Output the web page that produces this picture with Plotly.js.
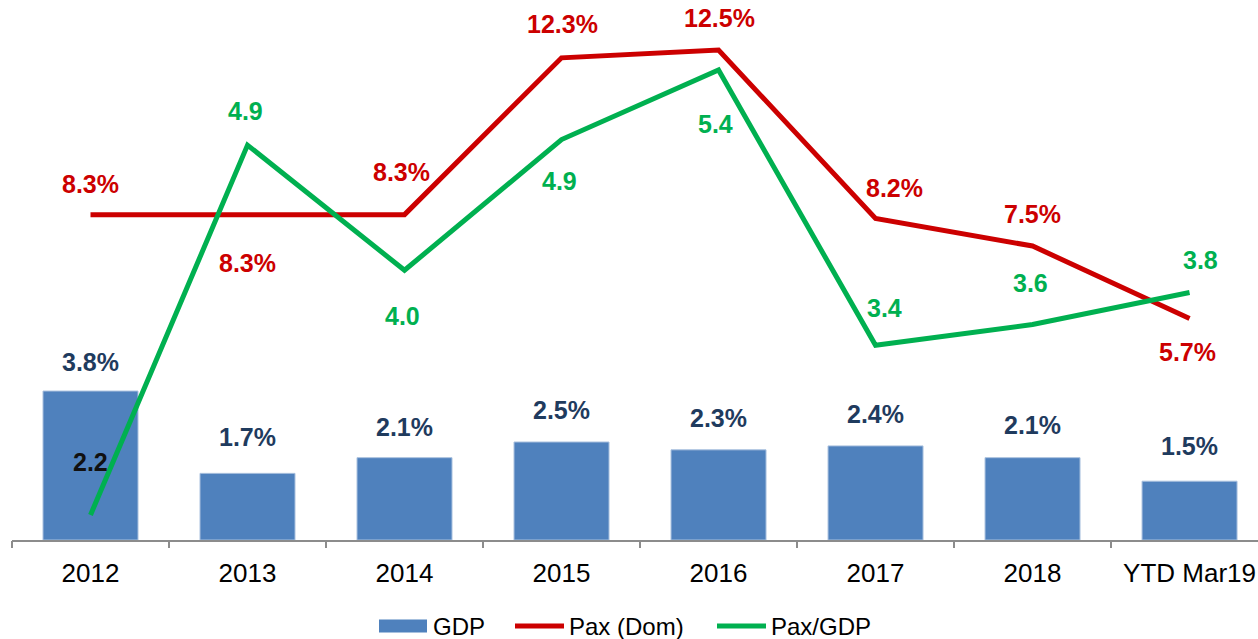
<!DOCTYPE html>
<html>
<head>
<meta charset="utf-8">
<script src="https://cdn.plot.ly/plotly-3.0.1.min.js"></script>
<style>
html,body{margin:0;padding:0;background:#fff;}
#chart{width:1258px;height:639px;}
</style>
</head>
<body>
<div id="chart"></div>
<script>
// ---- data ----
const categories = ["2012","2013","2014","2015","2016","2017","2018","YTD Mar19"];
const gdp    = [3.8, 1.7, 2.1, 2.5, 2.3, 2.4, 2.1, 1.5];
const paxDom = [8.3, 8.3, 8.3, 12.3, 12.5, 8.2, 7.5, 5.65];
const paxGdp = [2.2, 4.86, 3.96, 4.90, 5.4, 3.42, 3.57, 3.80];
const seriesNames = ["GDP", "Pax (Dom)", "Pax/GDP"];

// label placement (pixel shifts)
const gdpShift = [[0,29],[0,36],[0,31],[0,32],[0,32],[0,32],[0,33],[0,35]];
const domShift = [[0,31],[0,-48],[-3,43],[1,34],[1,32],[19,31],[0,32],[-2,-33]];
const pgShift  = [[0,53],[-2,34],[-2,-46],[-2,-41],[-3,-54],[9,37],[-2,42],[11,33]];

const FONT = "Liberation Sans, Arial, sans-serif";
const C_BAR = "#4F81BD", C_RED = "#CC0000", C_GREEN = "#00B050", C_NAVY = "#1F3B5E";

const W = 1258, H = 639, ML = 12, MR = 0, MT = 10, MB = 99;
const PW = W - ML - MR, PH = H - MT - MB;
const px2x = p => (p - ML) / PW;
const py2y = p => (H - MB - p) / PH;

const xi = categories.map((c,i)=>i);

const traces = [
  {type:"bar", name:seriesNames[0], x:xi, y:gdp, width:0.605,
   marker:{color:C_BAR, line:{color:"#A9C0DE", width:1}}, yaxis:"y"},
  {type:"scatter", mode:"lines", name:seriesNames[1], x:xi, y:paxDom,
   line:{color:C_RED, width:5}, yaxis:"y"},
  {type:"scatter", mode:"lines", name:seriesNames[2], x:xi, y:paxGdp,
   line:{color:C_GREEN, width:5}, yaxis:"y2"}
];

const ann = [];
xi.forEach(i=>{
  ann.push({x:i, y:gdp[i], yref:"y", text:gdp[i].toFixed(1)+"%", showarrow:false,
    xshift:gdpShift[i][0], yshift:gdpShift[i][1], yanchor:"middle",
    font:{family:FONT, size:25, color:C_NAVY, weight:"bold"}});
  ann.push({x:i, y:paxDom[i], yref:"y", text:paxDom[i].toFixed(1)+"%", showarrow:false,
    xshift:domShift[i][0], yshift:domShift[i][1], yanchor:"middle",
    font:{family:FONT, size:25, color:C_RED, weight:"bold"}});
  ann.push({x:i, y:paxGdp[i], yref:"y2", text:paxGdp[i].toFixed(1), showarrow:false,
    xshift:pgShift[i][0], yshift:pgShift[i][1], yanchor:"middle",
    font:{family:FONT, size:25, color:(i===0?"#111111":C_GREEN), weight:"bold"}});
});

// custom legend (drawn in paper coordinates)
const legY = 626;
const legItems = [
  {name:seriesNames[0], kind:"box",  color:C_BAR,   x0:379, x1:427, tx:431},
  {name:seriesNames[1], kind:"line", color:C_RED,   x0:515, x1:564, tx:567},
  {name:seriesNames[2], kind:"line", color:C_GREEN, x0:717, x1:766, tx:769}
];
const shapes = [];
legItems.forEach(it=>{
  if (it.kind === "box") {
    shapes.push({type:"rect", xref:"paper", yref:"paper", x0:px2x(it.x0), x1:px2x(it.x1),
      y0:py2y(legY+6.5), y1:py2y(legY-6.5), fillcolor:it.color, line:{width:0}});
  } else {
    shapes.push({type:"line", xref:"paper", yref:"paper", x0:px2x(it.x0), x1:px2x(it.x1),
      y0:py2y(legY), y1:py2y(legY), line:{color:it.color, width:5}});
  }
  ann.push({xref:"paper", yref:"paper", x:px2x(it.tx), y:py2y(legY), xanchor:"left", yanchor:"middle",
    text:it.name, showarrow:false, font:{family:FONT, size:24, color:"#000"}});
});

const layout = {
  width:W, height:H,
  margin:{l:ML, r:MR, t:MT, b:MB, autoexpand:false},
  paper_bgcolor:"#fff", plot_bgcolor:"#fff",
  font:{family:FONT, size:25, color:"#000"},
  showlegend:false,
  xaxis:{range:[-0.5, 7.436], tickmode:"array", tickvals:xi, ticktext:categories,
    showline:true, linecolor:"#8C8C8C", linewidth:1.5,
    ticks:"", showgrid:false, zeroline:false, ticklabelstandoff:9,
    tickfont:{family:FONT, size:26, color:"#000"}},
  // boundary tick marks between categories
  xaxis2:{overlaying:"x", range:[-0.5, 7.436], tickmode:"array",
    tickvals:xi.map(i=>i-0.5), ticktext:xi.map(()=>""), ticks:"outside", ticklen:7,
    tickcolor:"#8C8C8C", tickwidth:1.5, showgrid:false, zeroline:false, showline:false,
    side:"bottom", anchor:"y"},
  yaxis:{range:[0, 13.52], visible:false, showgrid:false, zeroline:false},
  yaxis2:{range:[2.020, 5.832], overlaying:"y", side:"right", visible:false, showgrid:false, zeroline:false},
  annotations:ann,
  shapes:shapes
};

// invisible trace to activate xaxis2 boundary ticks
traces.push({type:"scatter", mode:"none", x:[0], y:[0], xaxis:"x2", yaxis:"y", hoverinfo:"skip", showlegend:false});

Plotly.newPlot("chart", traces, layout, {displayModeBar:false, staticPlot:true});
</script>
</body>
</html>
